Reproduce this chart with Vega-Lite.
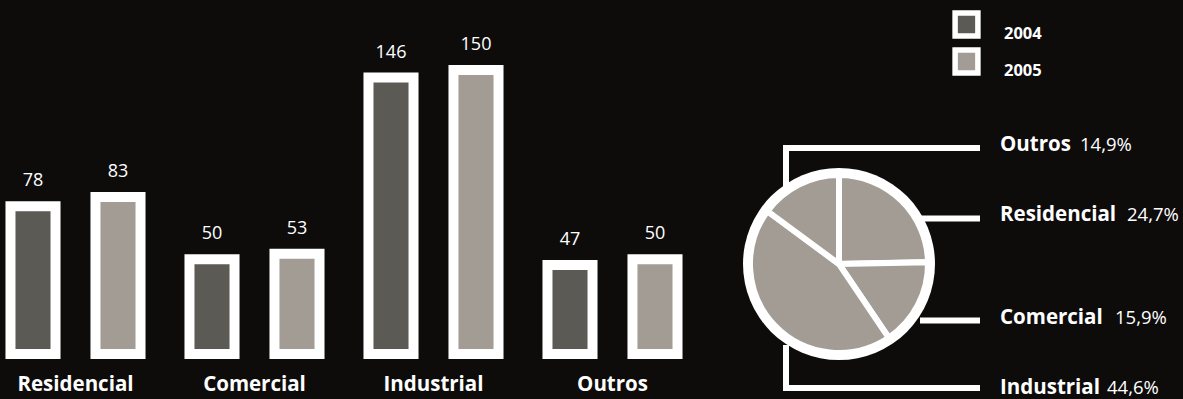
{
  "$schema": "https://vega.github.io/schema/vega-lite/v6.json",
  "width": 1183,
  "height": 399,
  "autosize": "none",
  "padding": 0,
  "background": "#0e0c0b",
  "config": {
    "view": {"stroke": null},
    "font": "Open Sans",
    "locale": {"number": {"decimal": ",", "thousands": ".", "grouping": [3], "currency": ["R$", ""]}}
  },
  "datasets": {
    "bars": [
      {"cat": "Residencial", "year": "2004", "value": 78},
      {"cat": "Residencial", "year": "2005", "value": 83},
      {"cat": "Comercial", "year": "2004", "value": 50},
      {"cat": "Comercial", "year": "2005", "value": 53},
      {"cat": "Industrial", "year": "2004", "value": 146},
      {"cat": "Industrial", "year": "2005", "value": 150},
      {"cat": "Outros", "year": "2004", "value": 47},
      {"cat": "Outros", "year": "2005", "value": 50}
    ],
    "pie": [
      {"cat": "Residencial", "share": 0.247, "ord": 1},
      {"cat": "Comercial", "share": 0.159, "ord": 2},
      {"cat": "Industrial", "share": 0.446, "ord": 3},
      {"cat": "Outros", "share": 0.149, "ord": 4}
    ]
  },
  "layer": [
    {
      "data": {"name": "bars"},
      "encoding": {
        "x": {"field": "cat", "type": "nominal", "sort": null, "axis": null,
              "scale": {"range": [-14, 702], "paddingInner": 0, "paddingOuter": 0}},
        "y": {"field": "value", "type": "quantitative", "axis": null,
              "scale": {"domain": [0, 187], "range": [354, 0], "nice": false, "zero": true}}
      },
      "layer": [
        {
          "mark": {"type": "bar", "stroke": "white", "strokeWidth": 10},
          "encoding": {
            "xOffset": {"field": "year", "type": "nominal", "scale": {"paddingInner": 0.47, "paddingOuter": 0.288}},
            "fill": {"field": "year", "type": "nominal",
              "scale": {"domain": ["2004", "2005"], "range": ["#5c5a55", "#a39c94"]},
              "legend": {"orient": "none", "legendX": 952, "legendY": 10, "title": null, "padding": 0,
                "symbolType": "square", "symbolSize": 520, "symbolStrokeColor": "white", "symbolStrokeWidth": 5.5,
                "symbolOpacity": 1, "labelColor": "white", "labelFontSize": 16.5, "labelFontWeight": "bold",
                "labelFont": "Open Sans", "labelOffset": 23, "rowPadding": -11.5,
                "labelBaseline": "line-top", "labelLineHeight": 12}}
          }
        },
        {
          "mark": {"type": "text", "color": "white", "fontSize": 18, "baseline": "alphabetic", "dy": -20, "font": "Open Sans"},
          "encoding": {
            "xOffset": {"field": "year", "type": "nominal", "scale": {"paddingInner": 0.47, "paddingOuter": 0.288}},
            "text": {"field": "value", "type": "quantitative"}
          }
        },
        {
          "transform": [{"filter": "datum.year == '2004'"}],
          "mark": {"type": "text", "color": "white", "fontSize": 20.5, "fontWeight": "bold", "baseline": "alphabetic", "dy": 37, "font": "Open Sans"},
          "encoding": {
            "y": {"datum": 0, "type": "quantitative"},
            "text": {"field": "cat", "type": "nominal"}
          }
        }
      ]
    },
    {
      "layer": [
        {
          "data": {"values": [{}]},
          "mark": {"type": "arc", "theta": 0, "theta2": 6.2832, "radius": 96, "fill": "white"},
          "encoding": {
            "x": {"datum": 839, "type": "quantitative", "axis": null, "scale": {"domain": [0, 1183], "range": [0, 1183], "nice": false, "zero": false}},
            "y": {"datum": 264, "type": "quantitative", "axis": null, "scale": {"domain": [0, 399], "range": [0, 399], "nice": false, "zero": false}}
          }
        },
        {
          "data": {"name": "pie"},
          "mark": {"type": "arc", "radius": 89, "fill": "#a39c94", "stroke": "white", "strokeWidth": 6},
          "encoding": {
            "theta": {"field": "share", "type": "quantitative", "stack": true},
            "order": {"field": "ord", "type": "quantitative"},
            "x": {"datum": 839, "type": "quantitative"},
            "y": {"datum": 264, "type": "quantitative"}
          }
        },
        {
          "data": {"values": [{}]},
          "mark": {"type": "rule", "stroke": "white", "strokeWidth": 6},
          "encoding": {"x": {"datum": 783, "type": "quantitative"}, "x2": {"datum": 980}, "y": {"datum": 148, "type": "quantitative"}}
        },
        {
          "data": {"values": [{}]},
          "mark": {"type": "rule", "stroke": "white", "strokeWidth": 6},
          "encoding": {"x": {"datum": 786, "type": "quantitative"}, "y": {"datum": 145, "type": "quantitative"}, "y2": {"datum": 190}}
        },
        {
          "data": {"values": [{}]},
          "mark": {"type": "rule", "stroke": "white", "strokeWidth": 6},
          "encoding": {"x": {"datum": 783, "type": "quantitative"}, "x2": {"datum": 980}, "y": {"datum": 388, "type": "quantitative"}}
        },
        {
          "data": {"values": [{}]},
          "mark": {"type": "rule", "stroke": "white", "strokeWidth": 6},
          "encoding": {"x": {"datum": 786, "type": "quantitative"}, "y": {"datum": 345, "type": "quantitative"}, "y2": {"datum": 391}}
        },
        {
          "data": {"values": [{}]},
          "mark": {"type": "rule", "stroke": "white", "strokeWidth": 6},
          "encoding": {"x": {"datum": 920, "type": "quantitative"}, "x2": {"datum": 980}, "y": {"datum": 218.5, "type": "quantitative"}}
        },
        {
          "data": {"values": [{}]},
          "mark": {"type": "rule", "stroke": "white", "strokeWidth": 6},
          "encoding": {"x": {"datum": 920, "type": "quantitative"}, "x2": {"datum": 980}, "y": {"datum": 320.5, "type": "quantitative"}}
        },
        {
          "data": {"name": "pie"},
          "transform": [{"filter": "datum.cat == 'Outros'"}],
          "layer": [
            {"mark": {"type": "text", "align": "left", "baseline": "alphabetic", "color": "white", "fontSize": 20.5, "fontWeight": "bold"},
             "encoding": {"x": {"datum": 1000, "type": "quantitative"}, "y": {"datum": 151, "type": "quantitative"}, "text": {"field": "cat"}}},
            {"mark": {"type": "text", "align": "left", "baseline": "alphabetic", "color": "white", "fontSize": 18.5},
             "encoding": {"x": {"datum": 1080, "type": "quantitative"}, "y": {"datum": 151, "type": "quantitative"}, "text": {"field": "share", "type": "quantitative", "format": ".1%"}}}
          ]
        },
        {
          "data": {"name": "pie"},
          "transform": [{"filter": "datum.cat == 'Residencial'"}],
          "layer": [
            {"mark": {"type": "text", "align": "left", "baseline": "alphabetic", "color": "white", "fontSize": 20.5, "fontWeight": "bold"},
             "encoding": {"x": {"datum": 1000, "type": "quantitative"}, "y": {"datum": 221, "type": "quantitative"}, "text": {"field": "cat"}}},
            {"mark": {"type": "text", "align": "left", "baseline": "alphabetic", "color": "white", "fontSize": 18.5},
             "encoding": {"x": {"datum": 1127, "type": "quantitative"}, "y": {"datum": 221, "type": "quantitative"}, "text": {"field": "share", "type": "quantitative", "format": ".1%"}}}
          ]
        },
        {
          "data": {"name": "pie"},
          "transform": [{"filter": "datum.cat == 'Comercial'"}],
          "layer": [
            {"mark": {"type": "text", "align": "left", "baseline": "alphabetic", "color": "white", "fontSize": 20.5, "fontWeight": "bold"},
             "encoding": {"x": {"datum": 1000, "type": "quantitative"}, "y": {"datum": 324, "type": "quantitative"}, "text": {"field": "cat"}}},
            {"mark": {"type": "text", "align": "left", "baseline": "alphabetic", "color": "white", "fontSize": 18.5},
             "encoding": {"x": {"datum": 1115, "type": "quantitative"}, "y": {"datum": 324, "type": "quantitative"}, "text": {"field": "share", "type": "quantitative", "format": ".1%"}}}
          ]
        },
        {
          "data": {"name": "pie"},
          "transform": [{"filter": "datum.cat == 'Industrial'"}],
          "layer": [
            {"mark": {"type": "text", "align": "left", "baseline": "alphabetic", "color": "white", "fontSize": 20.5, "fontWeight": "bold"},
             "encoding": {"x": {"datum": 1000, "type": "quantitative"}, "y": {"datum": 394, "type": "quantitative"}, "text": {"field": "cat"}}},
            {"mark": {"type": "text", "align": "left", "baseline": "alphabetic", "color": "white", "fontSize": 18.5},
             "encoding": {"x": {"datum": 1107, "type": "quantitative"}, "y": {"datum": 394, "type": "quantitative"}, "text": {"field": "share", "type": "quantitative", "format": ".1%"}}}
          ]
        }
      ]
    }
  ],
  "resolve": {"scale": {"x": "independent", "y": "independent"}}
}
